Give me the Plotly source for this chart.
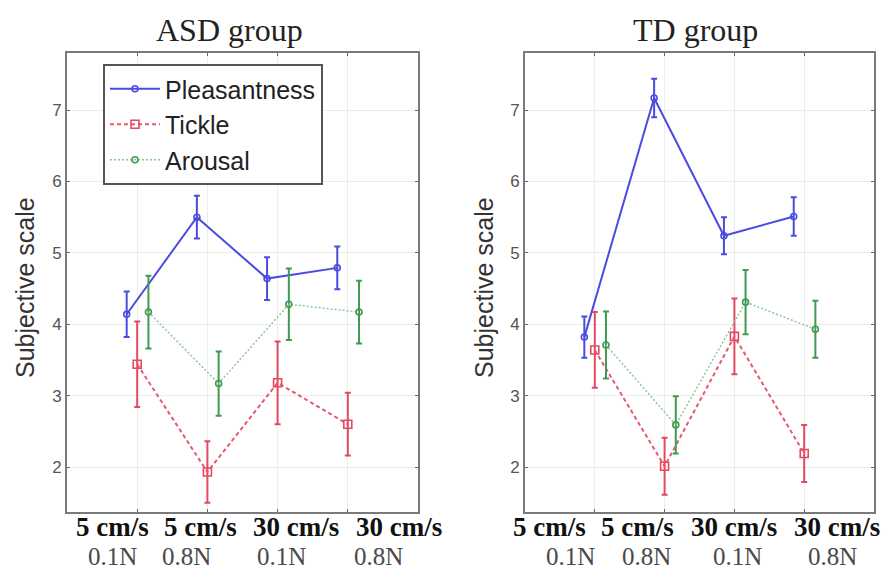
import plotly.graph_objects as go

W, H = 889, 572

# ---------------- data ----------------
conditions = ["5 cm/s 0.1N", "5 cm/s 0.8N", "30 cm/s 0.1N", "30 cm/s 0.8N"]
speed_labels = ["5 cm/s", "5 cm/s", "30 cm/s", "30 cm/s"]
force_labels = ["0.1N", "0.8N", "0.1N", "0.8N"]
series_names = ["Pleasantness", "Tickle", "Arousal"]
panel_titles = ["ASD group", "TD group"]
y_ticks = [2, 3, 4, 5, 6, 7]

asd_pleasantness = [4.14, 5.50, 4.64, 4.79]
asd_pleasantness_err = [0.32, 0.30, 0.30, 0.30]
asd_tickle = [3.44, 1.93, 3.18, 2.60]
asd_tickle_err = [0.60, 0.43, 0.58, 0.44]
asd_arousal = [4.17, 3.17, 4.28, 4.17]
asd_arousal_err = [0.51, 0.45, 0.50, 0.44]

td_pleasantness = [3.82, 7.17, 5.24, 5.51]
td_pleasantness_err = [0.29, 0.27, 0.26, 0.27]
td_tickle = [3.64, 2.01, 3.83, 2.19]
td_tickle_err = [0.53, 0.40, 0.53, 0.40]
td_arousal = [3.71, 2.59, 4.31, 3.93]
td_arousal_err = [0.47, 0.40, 0.45, 0.40]

# ---------------- styles / layout ----------------
offsets = [-0.15, 0.0, 0.16]
line_colors = ["#4b4be0", "#e8586c", "#8cc89a"]
mark_colors = ["#4b4be0", "#e34a62", "#3f9a52"]
dashes = ["solid", "4px,3px", "2px,2px"]
widths = [2, 2, 1.5]
symbols = ["circle-open", "square-open", "circle-open"]
msizes = [6, 8, 6]

panels = [
    dict(xd=(67, 418), data=[(asd_pleasantness, asd_pleasantness_err),
                             (asd_tickle, asd_tickle_err),
                             (asd_arousal, asd_arousal_err)],
         title_x=229, ytitle_x=25,
         l1=[112, 200, 296, 399], l2=[112, 186, 281, 378]),
    dict(xd=(525, 874), data=[(td_pleasantness, td_pleasantness_err),
                              (td_tickle, td_tickle_err),
                              (td_arousal, td_arousal_err)],
         title_x=695, ytitle_x=484,
         l1=[549, 637, 734, 837], l2=[570, 646, 737, 832]),
]
y_top, y_bot = 53, 512

fig = go.Figure()
annotations = []
layout_axes = {}
for p_i, p in enumerate(panels):
    sfx = "" if p_i == 0 else str(p_i + 1)
    xa, ya = "x" + sfx, "y" + sfx
    for s_i, name in enumerate(series_names):
        vals, errs = p["data"][s_i]
        fig.add_trace(go.Scatter(
            x=[i + offsets[s_i] for i in range(len(conditions))],
            y=vals,
            error_y=dict(type="data", array=errs, visible=True,
                         color=mark_colors[s_i], thickness=2, width=3),
            mode="lines+markers",
            name=name,
            showlegend=(p_i == 0),
            line=dict(color=line_colors[s_i], width=widths[s_i], dash=dashes[s_i]),
            marker=dict(symbol=symbols[s_i], size=msizes[s_i],
                        color=mark_colors[s_i], line=dict(width=1.6, color=mark_colors[s_i])),
            xaxis=xa, yaxis=ya,
        ))
    layout_axes["xaxis" + sfx] = dict(
        domain=[p["xd"][0] / W, p["xd"][1] / W], anchor=ya,
        range=[-1.0, 4.0], tickvals=list(range(len(conditions))),
        showticklabels=False, ticks="inside", ticklen=3, tickcolor="#666",
        showgrid=True, gridcolor="#ececec", gridwidth=1, zeroline=False,
        showline=True, linecolor="#7a7a7a", linewidth=2, mirror="ticks",
    )
    layout_axes["yaxis" + sfx] = dict(
        domain=[1 - y_bot / H, 1 - y_top / H], anchor=xa,
        range=[1.37, 7.8], tickvals=y_ticks,
        tickfont=dict(family="Liberation Sans, Arial", size=17, color="#555"),
        ticks="inside", ticklen=3, tickcolor="#666",
        showgrid=True, gridcolor="#ececec", gridwidth=1, zeroline=False,
        showline=True, linecolor="#7a7a7a", linewidth=2, mirror="ticks",
    )
    # panel title
    annotations.append(dict(text=panel_titles[p_i], x=p["title_x"] / W, y=1 - 30 / H,
                            xref="paper", yref="paper", showarrow=False,
                            xanchor="center", yanchor="middle",
                            font=dict(family="Liberation Serif, Times New Roman", size=32, color="#222")))
    # y-axis title
    annotations.append(dict(text="Subjective scale", x=p["ytitle_x"] / W, y=1 - 288 / H,
                            xref="paper", yref="paper", showarrow=False, textangle=-90,
                            xanchor="center", yanchor="middle",
                            font=dict(family="Liberation Sans, Arial", size=25, color="#333")))
    # two-line category labels
    for i in range(len(conditions)):
        annotations.append(dict(text="<b>" + speed_labels[i] + "</b>", x=p["l1"][i] / W, y=1 - 527 / H,
                                xref="paper", yref="paper", showarrow=False,
                                xanchor="center", yanchor="middle",
                                font=dict(family="Liberation Serif, Times New Roman", size=27, color="#111")))
        annotations.append(dict(text=force_labels[i], x=p["l2"][i] / W, y=1 - 556 / H,
                                xref="paper", yref="paper", showarrow=False,
                                xanchor="center", yanchor="middle",
                                font=dict(family="Liberation Serif, Times New Roman", size=25, color="#4a4a4a")))

fig.update_layout(
    width=W, height=H, autosize=False,
    margin=dict(l=0, r=0, t=0, b=0),
    paper_bgcolor="white", plot_bgcolor="white",
    annotations=annotations,
    legend=dict(x=103 / W, y=1 - 64 / H, xanchor="left", yanchor="top",
                bgcolor="white", bordercolor="#555", borderwidth=2,
                font=dict(family="Liberation Sans, Arial", size=25, color="#222"),
                itemwidth=50, tracegroupgap=0),
    **layout_axes,
)

fig.write_html("out.html")
